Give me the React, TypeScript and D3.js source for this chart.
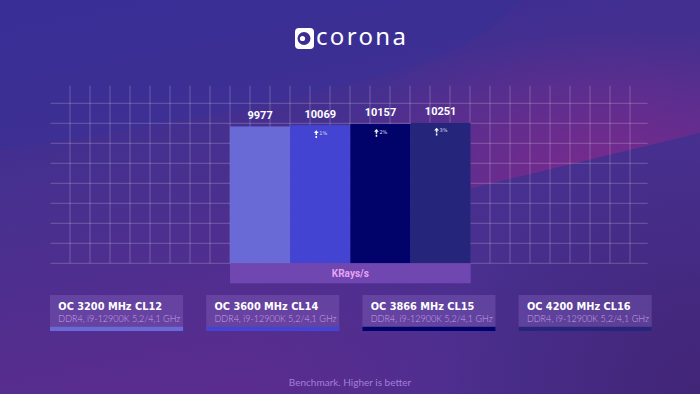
import React from 'react';
import * as d3 from 'd3';

const configs = ['OC 3200 MHz CL12', 'OC 3600 MHz CL14', 'OC 3866 MHz CL15', 'OC 4200 MHz CL16'];
const systemInfo = 'DDR4, i9-12900K 5,2/4,1 GHz';
const scores = [9977, 10069, 10157, 10251];
const gains = ['', '1%', '2%', '3%'];
const barColors = ['#6a6ad6', '#4444d3', '#02026b', '#25267b'];

const W = 700;
const H = 394;

const App = () => {
  const x = d3.scaleBand<string>().domain(configs).range([230, 470.7]).padding(0);
  const y = d3.scaleLinear().domain([0, 13000]).range([263.3, 85]);

  // decorative grid, 20px cells
  const gridY = d3.range(103.3, 264, 20);
  const gridX = d3.range(70, 640, 20);

  const legendX = d3.scaleBand<string>().domain(configs).range([50, 651.7]).paddingInner(0.148);

  return (
    <svg width={W} height={H} style={{ position: 'absolute', left: 0, top: 0 }}>
      <defs>
        <linearGradient id="bg" x1="0" y1="0" x2="0.35" y2="1">
          <stop offset="0" stopColor="#372d93" />
          <stop offset="0.45" stopColor="#47308f" />
          <stop offset="1" stopColor="#5b2c8f" />
        </linearGradient>
        <radialGradient id="mag" cx="0.5" cy="0.5" r="0.5">
          <stop offset="0" stopColor="#7c2a8d" stopOpacity="0.9" />
          <stop offset="1" stopColor="#7c2a8d" stopOpacity="0" />
        </radialGradient>
        <linearGradient id="band" gradientUnits="userSpaceOnUse" x1="250" y1="0" x2="520" y2="0">
          <stop offset="0" stopColor="#44308f" stopOpacity="0" />
          <stop offset="1" stopColor="#44308f" stopOpacity="0.75" />
        </linearGradient>
        <radialGradient id="corner" gradientUnits="userSpaceOnUse" cx="700" cy="394" r="260">
          <stop offset="0" stopColor="#3a1c62" stopOpacity="0.55" />
          <stop offset="1" stopColor="#3a1c62" stopOpacity="0" />
        </radialGradient>
        <clipPath id="upper">
          <polygon points="250,242 700,133 700,0 250,0" />
        </clipPath>
        <clipPath id="lower">
          <polygon points="250,242 700,133 700,394 250,394" />
        </clipPath>
      </defs>

      {/* background */}
      <rect width={W} height={H} fill="url(#bg)" />
      <path d="M520,0 C470,60 380,90 0,150 L0,0 Z" fill="#383097" opacity={0.5} />
      <g clipPath="url(#upper)">
        <ellipse cx={600} cy={170} rx={280} ry={140} fill="url(#mag)" />
      </g>
      <g clipPath="url(#lower)">
        <rect x={250} y={130} width={450} height={264} fill="url(#band)" />
      </g>
      <rect width={W} height={H} fill="url(#corner)" />

      {/* logo */}
      <rect x={295} y={28} width={19} height={21} rx={4} fill="#fff" />
      <circle cx={304} cy={38.5} r={6.5} fill="#3f2c91" />
      <circle cx={302.5} cy={38.5} r={2.6} fill="#fff" />
      <text x={316} y={44.5} fill="#fff" fontFamily="Noto Sans" fontWeight={400}
        fontSize={24} textLength={90} lengthAdjust="spacing">corona</text>

      {/* grid */}
      <g stroke="#fff" strokeOpacity={0.22} strokeWidth={1}>
        {gridY.map(gy => <line key={`h${gy}`} x1={50.7} x2={647.7} y1={gy} y2={gy} />)}
        {gridX.map(gx => <line key={`v${gx}`} x1={gx} x2={gx} y1={85.7} y2={263.3} />)}
      </g>

      {/* bars */}
      {configs.map((c, i) => (
        <rect key={c} x={x(c)} y={y(scores[i])} width={x.bandwidth()} height={y(0) - y(scores[i])} fill={barColors[i]} />
      ))}
      {configs.map((c, i) => (
        <text key={`v${c}`} x={x(c)! + x.bandwidth() / 2} y={y(scores[i]) - 7.5} fill="#fff" textAnchor="middle"
          fontFamily="Roboto" fontWeight={700} fontSize={11}>{scores[i]}</text>
      ))}
      {configs.map((c, i) => {
        if (!gains[i]) return null;
        const cx = x(c)! + x.bandwidth() / 2 - 4;
        const ty = y(scores[i]) + 5;
        return (
          <g key={`g${c}`}>
            <path d={`M${cx - 2.4},${ty + 2.8} L${cx},${ty} L${cx + 2.4},${ty + 2.8} Z`} fill="#fff" />
            <line x1={cx} x2={cx} y1={ty + 2.6} y2={ty + 7.8} stroke="#fff" strokeWidth={1.5} strokeDasharray="2.2 0.9" />
            <text x={cx + 3} y={ty + 4.6} fill="#d8d8ee" fontFamily="DejaVu Sans" fontSize={5}>{gains[i]}</text>
          </g>
        );
      })}

      {/* unit band */}
      <rect x={230} y={263.3} width={240.7} height={20} fill="#7046b0" />
      <text x={350.4} y={276.8} textAnchor="middle" fill="#e7a4f0" fontFamily="Roboto" fontWeight={700} fontSize={10}>KRays/s</text>

      {/* legend */}
      {configs.map((c, i) => {
        const lx = legendX(c)!;
        const lw = legendX.bandwidth();
        return (
          <g key={`l${c}`}>
            <rect x={lx} y={295} width={lw} height={36} fill="#9a7ad0" fillOpacity={0.28} />
            <rect x={lx} y={326.8} width={lw} height={4.2} fill={barColors[i]} />
            <text x={lx + 8.3} y={310.2} fill="#fff" fontFamily="DejaVu Sans" fontWeight={700} fontSize={9.8}>{c}</text>
            <text x={lx + 8.3} y={321.6} fill="#c9a0e8" fontFamily="Lato" fontWeight={300} fontSize={9}>{systemInfo}</text>
          </g>
        );
      })}

      <text x={350} y={385.6} textAnchor="middle" fill="#a47fd8" fontFamily="Lato" fontSize={10}>Benchmark. Higher is better</text>
    </svg>
  );
};

export default App;
